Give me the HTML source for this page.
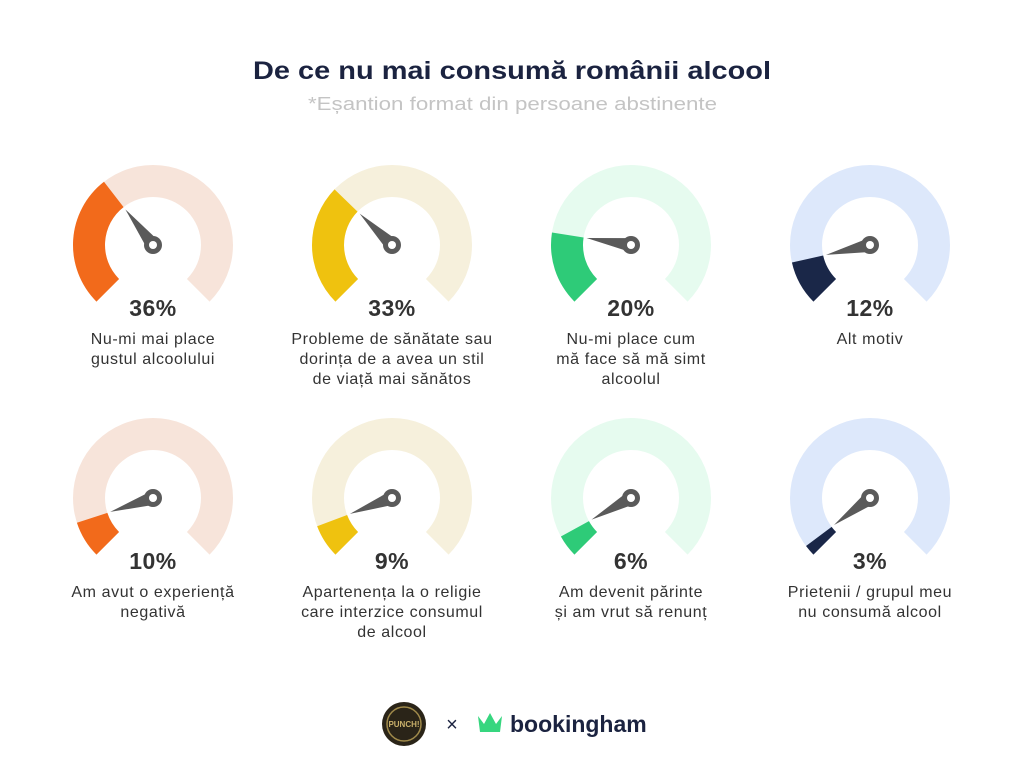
<!DOCTYPE html>
<html><head><meta charset="utf-8"><style>
body{margin:0;background:#fff;}
svg{display:block}
text{font-family:"Liberation Sans","DejaVu Sans",sans-serif;}
</style></head><body>
<svg width="1024" height="768" viewBox="0 0 1024 768" id="s">
<text x="253" y="79" textLength="518" lengthAdjust="spacingAndGlyphs" font-size="25" font-weight="bold" fill="#1b2340">De ce nu mai consumă românii alcool</text>
<text x="308" y="110" textLength="409" lengthAdjust="spacingAndGlyphs" font-size="18" fill="#c4c4c4">*Eșantion format din persoane abstinente</text>
<g id="g"></g>
<g transform="translate(382,700)">
<circle cx="22" cy="24" r="22" fill="#2a2418"/><circle cx="22" cy="24" r="17" fill="none" stroke="#a08a4a" stroke-width="1.5"/>
<text x="22" y="27" text-anchor="middle" font-size="8" font-weight="bold" fill="#c9b06a">PUNCH!</text>
<text x="70" y="31" text-anchor="middle" font-size="20" fill="#1b2340">×</text>
<path d="M96 16 L102 24 L108 13 L114 24 L120 16 L118 32 L98 32 Z" fill="#36d67f"/>
<text x="128" y="32" font-size="23" font-weight="bold" fill="#1b2340">bookingham</text>
</g>
</svg>
<script>
const data=[
[153,245,36,"#f26a1b","#f7e4da",["Nu-mi mai place","gustul alcoolului"]],
[392,245,33,"#efc20f","#f6f0dc",["Probleme de sănătate sau","dorința de a avea un stil","de viață mai sănătos"]],
[631,245,20,"#2ecb78","#e6fbef",["Nu-mi place cum","mă face să mă simt","alcoolul"]],
[870,245,12,"#1a2748","#dde8fb",["Alt motiv"]],
[153,498,10,"#f26a1b","#f7e4da",["Am avut o experiență","negativă"]],
[392,498,9,"#efc20f","#f6f0dc",["Apartenența la o religie","care interzice consumul","de alcool"]],
[631,498,6,"#2ecb78","#e6fbef",["Am devenit părinte","și am vrut să renunț"]],
[870,498,3,"#1a2748","#dde8fb",["Prietenii / grupul meu","nu consumă alcool"]]];
const R=80,r=48;
function pt(cx,cy,rad,a){a=a*Math.PI/180;return [cx+rad*Math.sin(a),cy-rad*Math.cos(a)];}
function arc(cx,cy,a0,a1){const p1=pt(cx,cy,R,a0),p2=pt(cx,cy,R,a1),p3=pt(cx,cy,r,a1),p4=pt(cx,cy,r,a0);const l=(a1-a0)>180?1:0;
return `M${p1} A${R} ${R} 0 ${l} 1 ${p2} L${p3} A${r} ${r} 0 ${l} 0 ${p4}Z`;}
let h="";
for(const [cx,cy,v,c,bg,lab] of data){
 const a=-135+v*2.7;
 h+=`<path d="${arc(cx,cy,-135,135)}" fill="${bg}"/><path d="${arc(cx,cy,-135,a)}" fill="${c}"/>`;
 const t=pt(cx,cy,45,a),s1=pt(cx,cy,7,a-90),s2=pt(cx,cy,7,a+90);
 h+=`<path d="M${s1} L${t} L${s2}Z" fill="#5a5a5a"/><circle cx="${cx}" cy="${cy}" r="9" fill="#5a5a5a"/><circle cx="${cx}" cy="${cy}" r="4" fill="#fff"/>`;
 h+=`<text x="${cx}" y="${cy+71}" text-anchor="middle" font-size="23" font-weight="bold" fill="#333" letter-spacing="0.5">${v}%</text>`;
 lab.forEach((l,i)=>{h+=`<text x="${cx}" y="${cy+99+i*20}" text-anchor="middle" font-size="16" letter-spacing="0.6" fill="#333">${l}</text>`;});
}
document.getElementById("g").innerHTML=h;
</script>
</body></html>
